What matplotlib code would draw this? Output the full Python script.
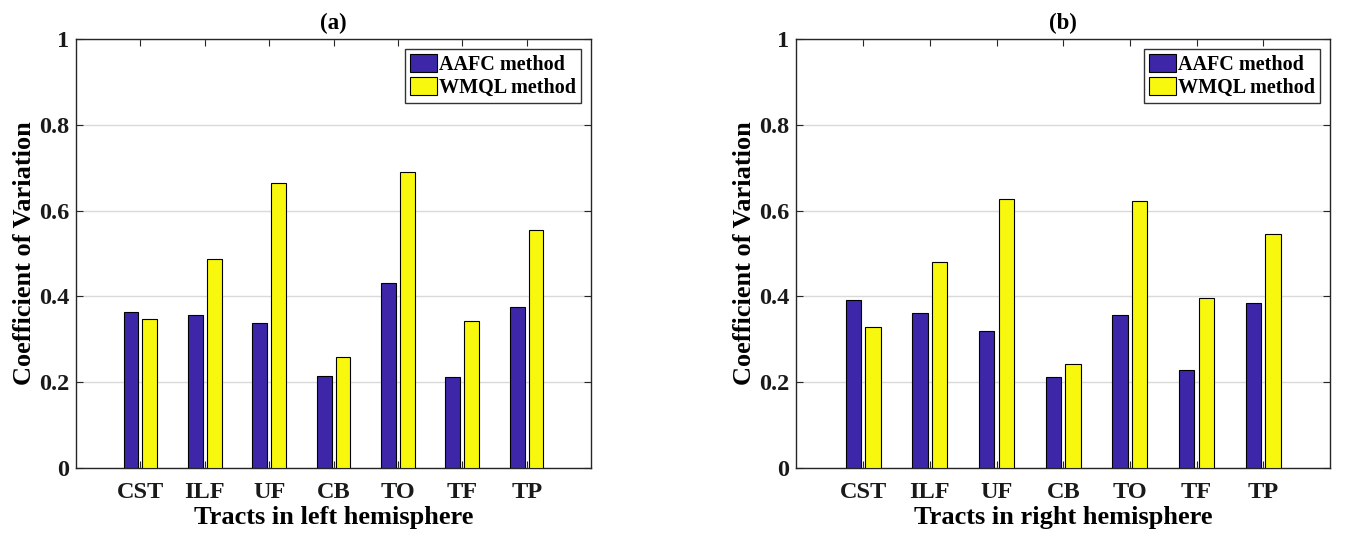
import matplotlib
matplotlib.use("Agg")
import matplotlib.pyplot as plt
import matplotlib.ticker as mticker
import numpy as np

# data
tracts = ["CST", "ILF", "UF", "CB", "TO", "TF", "TP"]
left_aafc = [0.364, 0.357, 0.337, 0.215, 0.431, 0.213, 0.375]
left_wmql = [0.348, 0.488, 0.665, 0.258, 0.691, 0.342, 0.554]
right_aafc = [0.391, 0.362, 0.319, 0.213, 0.357, 0.228, 0.385]
right_wmql = [0.328, 0.481, 0.627, 0.242, 0.622, 0.396, 0.546]

COLORS = {"aafc": "#3D27A8", "wmql": "#F8F80F", "grid": "#DADADA", "axis": "#262626"}

plt.rcParams["font.family"] = ["Liberation Serif", "DejaVu Serif"]
plt.rcParams["font.weight"] = "bold"


def plot_panel(ax, aafc, wmql, title, xlabel):
    x = np.arange(1, len(tracts) + 1)
    off, w = 0.146, 0.23
    ax.bar(x - off, aafc, width=w, color=COLORS["aafc"], edgecolor="black",
           linewidth=0.8, label="AAFC method", zorder=3)
    ax.bar(x + off, wmql, width=w, color=COLORS["wmql"], edgecolor="black",
           linewidth=0.8, label="WMQL method", zorder=3)

    ax.set_xlim(0, 8)
    ax.set_ylim(0, 1)
    ax.set_xticks(x)
    ax.set_xticklabels(tracts)
    ax.set_yticks([0, 0.2, 0.4, 0.6, 0.8, 1])
    ax.yaxis.set_major_formatter(mticker.FuncFormatter(lambda v, _: f"{v:g}"))
    ax.tick_params(direction="in", top=True, right=True, length=5,
                   width=0.8, labelsize=17.5, colors=COLORS["axis"])
    ax.tick_params(axis="x", pad=10)
    ax.tick_params(axis="y", pad=5)
    for lab in ax.get_xticklabels() + ax.get_yticklabels():
        lab.set_fontweight("bold")
        lab.set_color("#1a1a1a")
    ax.grid(axis="y", color=COLORS["grid"], linewidth=1.0, zorder=0)
    ax.spines[:].set_color(COLORS["axis"])
    ax.spines[:].set_linewidth(1.0)

    ax.set_title(title, fontsize=16.5, fontweight="bold", pad=7)
    ax.set_xlabel(xlabel, fontsize=19, fontweight="bold", labelpad=2)
    ax.set_ylabel("Coefficient of Variation", fontsize=19, fontweight="bold", labelpad=2)

    leg = ax.legend(loc="upper right", fontsize=14.5, handlelength=1.35,
                    handleheight=1.0, handletextpad=0.1, borderpad=0.25,
                    labelspacing=0.1, borderaxespad=0.5, fancybox=False,
                    framealpha=1, edgecolor="#333333")
    leg.get_frame().set_linewidth(1.0)
    for t in leg.get_texts():
        t.set_fontweight("bold")


fig = plt.figure(figsize=(13.55, 5.35), dpi=100)
ax1 = fig.add_axes([0.0561, 0.1252, 0.3801, 0.8019])
ax2 = fig.add_axes([0.5878, 0.1252, 0.3937, 0.8019])

plot_panel(ax1, left_aafc, left_wmql, "(a)", "Tracts in left hemisphere")
plot_panel(ax2, right_aafc, right_wmql, "(b)", "Tracts in right hemisphere")

fig.savefig("out.png", dpi=100, facecolor="white")
